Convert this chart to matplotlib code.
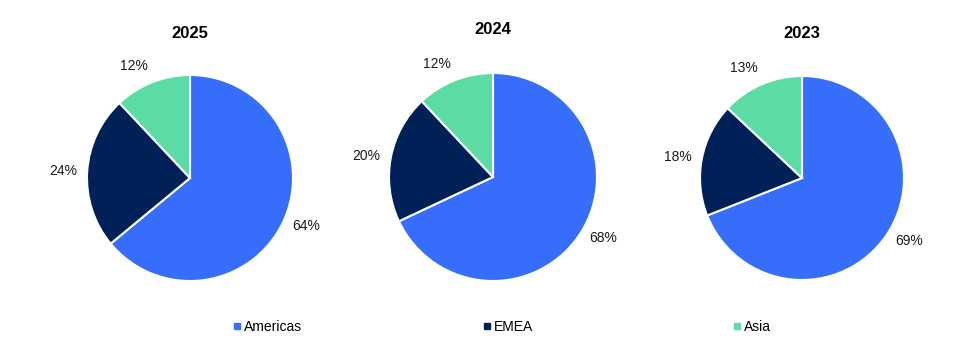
import matplotlib
matplotlib.use("Agg")
import numpy as np
import matplotlib.pyplot as plt
from matplotlib.lines import Line2D

plt.rcParams['font.family'] = ['Liberation Sans', 'DejaVu Sans']

years = ["2025", "2024", "2023"]
regions = ["Americas", "EMEA", "Asia"]
americas = [64, 68, 69]
emea = [24, 20, 18]
asia = [12, 12, 13]
colors = ["#366EFB", "#002157", "#5CDCA5"]

W, H = 977, 364
fig = plt.figure(figsize=(W / 100, H / 100), dpi=100)

# pie centers / radii in pixels, title y in pixels
centers = [(190, 178, 103), (493, 177, 104), (802, 178, 102)]
title_y = [34, 30, 34]

for i, yr in enumerate(years):
    cx, cy, r = centers[i]
    ax = fig.add_axes([(cx - r) / W, (H - cy - r) / H, 2 * r / W, 2 * r / H])
    vals = [americas[i], emea[i], asia[i]]
    wedges, _ = ax.pie(vals, colors=colors, startangle=90, counterclock=False,
                       radius=1,
                       wedgeprops=dict(edgecolor='white', linewidth=1.5))
    for w, v in zip(wedges, vals):
        th = np.deg2rad((w.theta1 + w.theta2) / 2)
        c, s = np.cos(th), np.sin(th)
        ha = 'left' if c > 0.1 else ('right' if c < -0.1 else 'center')
        va = 'bottom' if s > 0.8 else ('top' if s < -0.8 else 'center')
        ax.text(1.1 * c, 1.1 * s, f"{v}%", ha=ha, va=va, fontsize=10,
                color='#1a1a1a', clip_on=False)
    ax.set_xlim(-1, 1)
    ax.set_ylim(-1, 1)
    ax.set_aspect('equal')
    ax.axis('off')
    fig.text(cx / W, 1 - title_y[i] / H, yr, ha='center', va='center',
             fontsize=12, fontweight='bold', color='black')

leg_x = [233, 483, 733]
for i, name in enumerate(regions):
    h = Line2D([], [], marker='s', linestyle='none', markersize=4.5,
               color=colors[i], label=name)
    fig.legend(handles=[h], loc='center left',
               bbox_to_anchor=(leg_x[i] / W, 1 - 327 / H),
               frameon=False, handlelength=0.6, handletextpad=0.2,
               borderpad=0, borderaxespad=0, fontsize=10)

fig.savefig("out.png", dpi=100, facecolor='white')
